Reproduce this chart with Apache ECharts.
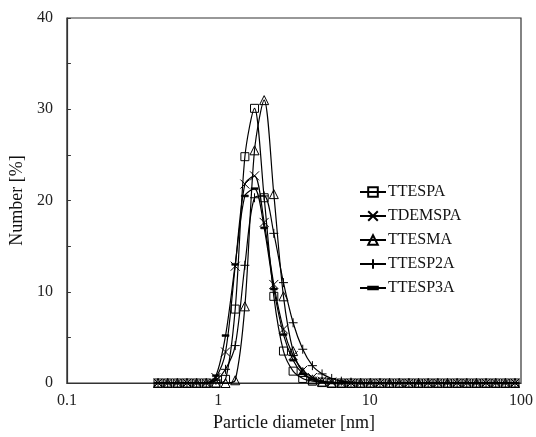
<!DOCTYPE html>
<html><head><meta charset="utf-8">
<script src="https://cdn.jsdelivr.net/npm/echarts@6/dist/echarts.min.js"></script>
<style>html,body{margin:0;padding:0;background:#fff}#c{width:536px;height:437px}</style>
</head><body><div id="c"></div>
<script>
const diameters = [0.4,0.4632,0.5365,0.6213,0.7195,0.8332,0.9649,1.117,1.294,1.499,1.736,2.01,2.328,2.696,3.122,3.615,4.187,4.849,5.615,6.503,7.531,8.721,10.1,11.7,13.54,15.69,18.17,21.04,24.36,28.21,32.67,37.84,43.82,50.75,58.77,68.06,78.82,91.28];
const TTESPA  = [0,0,0,0,0,0,0,0.4,8.1,24.8,30.1,20.3,9.5,3.5,1.3,0.5,0.2,0.1,0,0,0,0,0,0,0,0,0,0,0,0,0,0,0,0,0,0,0,0];
const TDEMSPA = [0,0,0,0,0,0,0.6,3.4,12.8,21.8,22.7,17.6,10.8,5.9,3.0,1.4,0.6,0.2,0.1,0,0,0,0,0,0,0,0,0,0,0,0,0,0,0,0,0,0,0];
const TTESMA  = [0,0,0,0,0,0,0,0,0.3,8.4,25.5,31.0,20.7,9.5,3.5,1.2,0.4,0.1,0,0,0,0,0,0,0,0,0,0,0,0,0,0,0,0,0,0,0,0];
const TTESP2A = [0,0,0,0,0,0,0.3,1.5,4.1,12.9,20.3,20.5,16.4,11.0,6.6,3.7,1.9,1.0,0.5,0.2,0.1,0,0,0,0,0,0,0,0,0,0,0,0,0,0,0,0,0];
const TTESP3A = [0,0,0,0,0,0,0.8,5.2,13.0,20.5,21.3,17.0,10.3,5.3,2.5,1.0,0.4,0.1,0,0,0,0,0,0,0,0,0,0,0,0,0,0,0,0,0,0,0,0];
const seriesNames = ['TTESPA','TDEMSPA','TTESMA','TTESP2A','TTESP3A'];
const xTickLabels = ['0.1','1','10','100'];
const yTickLabels = ['0','10','20','30','40'];

const font = 'Liberation Serif';
const allData = [TTESPA, TDEMSPA, TTESMA, TTESP2A, TTESP3A];
const symbols = [
  {symbol:'rect', size:8},
  {symbol:'path://M0,0L10,10M10,0L0,10', size:9},
  {symbol:'triangle', size:9},
  {symbol:'path://M5,0L5,10M0,5L10,5', size:9},
  {symbol:'path://M0,0L0,0M0,3.6L10,3.6L10,6.4L0,6.4ZM10,10L10,10', size:7}
];
const series = seriesNames.map((n,i)=>({
  name:n, type:'line', smooth:0.3,
  data: diameters.map((d,j)=>[d, allData[i][j]]),
  symbol: symbols[i].symbol, symbolSize: symbols[i].size,
  showAllSymbol:true,
  lineStyle:{color:'#000', width:1.2},
  itemStyle:{color: i===4 ? '#000' : 'rgba(255,255,255,0)', borderColor:'#000', borderWidth: i===4 ? 0.5 : 1},
  emphasis:{disabled:true}
}));

const chart = echarts.init(document.getElementById('c'), null, {renderer:'canvas'});
chart.setOption({
  animation:false,
  backgroundColor:'#fff',
  grid:{left:62, right:12, top:18, bottom:49, show:true, borderColor:'#333', borderWidth:1.2},
  legend:{
    orient:'vertical', left:354, top:179, itemWidth:26, itemHeight:12, itemGap:8,
    data: seriesNames,
    textStyle:{fontFamily:font, fontSize:16, color:'#111', padding:[0,0,0,-3]}
  },
  xAxis:{
    type:'log', logBase:10, min:0.1, max:100,
    name:'Particle diameter [nm]', nameLocation:'middle', nameGap:31,
    nameTextStyle:{fontFamily:font, fontSize:18, color:'#111'},
    axisLine:{show:true, lineStyle:{color:'#333', width:1.2}},
    axisTick:{show:false}, splitLine:{show:false}, minorTick:{show:false},
    axisLabel:{fontFamily:font, fontSize:16, color:'#222', margin:10,
      formatter:(v)=>{const s=xTickLabels.find(t=>Math.abs(parseFloat(t)-v)<1e-9*Math.max(1,v)); return s||'';}}
  },
  yAxis:{
    type:'value', min:0, max:40, interval:10,
    name:'Number [%]', nameLocation:'middle', nameGap:34, nameRotate:90,
    nameTextStyle:{fontFamily:font, fontSize:18, color:'#111'},
    axisLine:{show:true, lineStyle:{color:'#333', width:1.2}},
    axisTick:{show:true, inside:true, length:4, lineStyle:{color:'#333'}},
    minorTick:{show:true, splitNumber:2, length:4, lineStyle:{color:'#333'}},
    splitLine:{show:false},
    axisLabel:{fontFamily:font, fontSize:16, color:'#222', margin:14,
      formatter:(v)=>yTickLabels.includes(String(v))?String(v):''}
  },
  series
});
</script></body></html>
